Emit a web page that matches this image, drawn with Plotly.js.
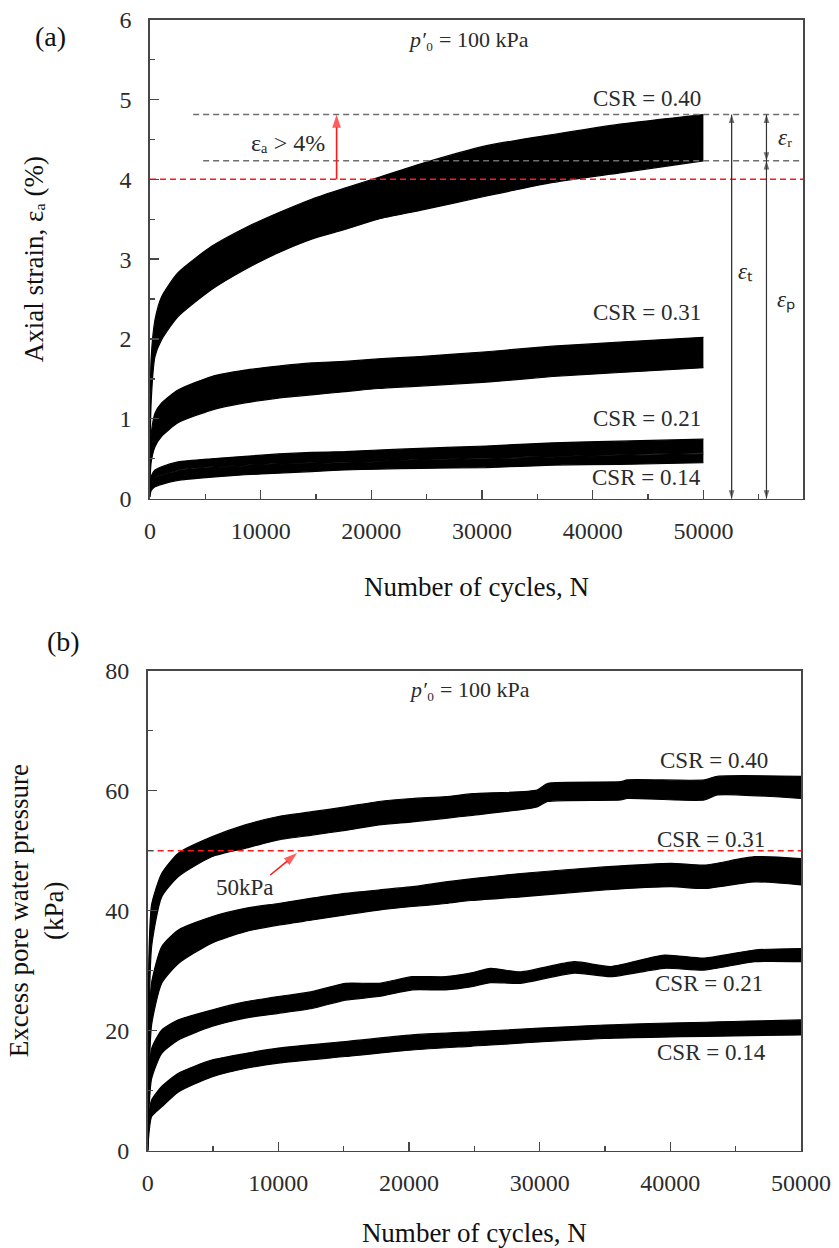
<!DOCTYPE html>
<html>
<head>
<meta charset="utf-8">
<script src="https://cdn.plot.ly/plotly-3.0.1.min.js"></script>
<style>html,body{margin:0;padding:0;background:#fff;}#chart{width:839px;height:1248px;}</style>
</head>
<body>
<div id="chart"></div>
<script>
// ---------- Panel (a): axial strain (%) vs number of cycles ----------
const strainN = [0, 100, 450, 1050, 2530, 5570, 8580, 11600, 14600, 17600, 20600, 24400, 30400, 36400, 42460, 50000];
const strainUp040 = [0.9, 1.75, 2.24, 2.53, 2.83, 3.16, 3.39, 3.58, 3.75, 3.89, 4.02, 4.19, 4.42, 4.56, 4.69, 4.81];
const strainLo040 = [0.4, 1.2, 1.78, 1.99, 2.28, 2.62, 2.87, 3.08, 3.25, 3.37, 3.50, 3.61, 3.79, 3.96, 4.08, 4.23];
const strainUp031 = [0.4, 0.8, 1.07, 1.20, 1.36, 1.53, 1.61, 1.66, 1.70, 1.72, 1.75, 1.78, 1.84, 1.91, 1.96, 2.02];
const strainLo031 = [0.2, 0.45, 0.65, 0.78, 0.95, 1.11, 1.20, 1.26, 1.30, 1.34, 1.38, 1.41, 1.46, 1.53, 1.58, 1.64];
const strainUp021 = [0.15, 0.28, 0.36, 0.40, 0.46, 0.50, 0.53, 0.56, 0.58, 0.59, 0.61, 0.63, 0.66, 0.70, 0.72, 0.745];
const strainLo021 = [0.08, 0.20, 0.27, 0.30, 0.36, 0.40, 0.42, 0.44, 0.45, 0.46, 0.47, 0.49, 0.51, 0.53, 0.55, 0.575];
const strainUp014 = [0.07, 0.19, 0.26, 0.29, 0.35, 0.39, 0.41, 0.43, 0.44, 0.45, 0.46, 0.48, 0.50, 0.52, 0.54, 0.56];
const strainLo014 = [0.02, 0.10, 0.15, 0.18, 0.23, 0.27, 0.30, 0.32, 0.34, 0.36, 0.37, 0.38, 0.39, 0.42, 0.43, 0.45];

// reference levels in panel (a)
const strainMaxFinal = 4.81;   // upper dashed line (max strain at end)
const strainMinFinal = 4.23;   // lower dashed line (permanent strain)
const strainLimit = 4.0;       // failure criterion 4 %
const refLineStartN = [3900, 4800];
const arrowTotalN = 52550;
const arrowPermN = 55700;
const redArrowN = 16860;

// ---------- Panel (b): excess pore water pressure (kPa) ----------
const pwpN040 = [0, 100, 300, 1070, 2350, 4900, 7460, 10000, 12580, 15130, 17680, 20250, 22800, 24850, 29800, 30600, 36200, 36700, 42600, 43600, 50000];
const pwpUp040 = [5, 33, 41, 46.2, 49.6, 52.3, 54.3, 55.7, 56.5, 57.3, 58.2, 58.7, 59.0, 59.5, 60.1, 61.2, 61.5, 61.8, 61.8, 62.4, 62.4];
const pwpLo040 = [0, 22, 34, 42.3, 45.7, 49.0, 50.4, 51.8, 52.6, 53.4, 54.3, 54.8, 55.4, 55.9, 57.3, 58.2, 58.45, 58.7, 58.45, 59.3, 58.7];

const pwpN031 = [0, 100, 300, 1070, 2350, 4900, 7460, 10000, 12580, 15130, 17680, 20250, 22800, 24700, 28550, 34940, 40050, 42600, 46440, 50000];
const pwpUp031 = [3, 20, 28, 34.0, 36.8, 39.0, 40.4, 41.2, 42.1, 42.9, 43.45, 44.0, 44.8, 45.3, 46.2, 47.3, 47.9, 47.6, 49.0, 48.7];
const pwpLo031 = [0, 12, 21, 27.9, 31.2, 34.6, 36.5, 37.6, 38.45, 39.3, 40.1, 40.7, 41.2, 41.7, 42.3, 43.45, 44.0, 43.7, 44.8, 44.3];

const pwpN021 = [0, 100, 300, 1070, 2350, 4900, 7460, 10000, 12580, 15130, 17680, 20250, 22800, 24700, 26250, 28550, 32640, 35450, 39540, 42600, 46440, 50000];
const pwpUp021 = [2, 12, 17, 20.1, 21.8, 23.45, 24.8, 25.7, 26.5, 27.9, 27.9, 29.0, 29.0, 29.6, 30.4, 29.8, 31.5, 30.7, 32.6, 32.1, 33.45, 33.7];
const pwpLo021 = [0, 7, 12, 16.2, 18.45, 20.7, 22.1, 22.9, 23.7, 25.1, 25.7, 26.8, 26.8, 27.3, 28.0, 27.9, 29.6, 29.0, 30.4, 30.1, 31.5, 31.5];

const pwpN014 = [0, 100, 300, 1070, 2350, 4900, 7460, 10000, 15130, 20250, 24700, 34940, 50000];
const pwpUp014 = [1, 6, 8.45, 10.7, 12.9, 15.1, 16.2, 17.1, 18.2, 19.3, 19.8, 20.95, 21.8];
const pwpLo014 = [0, 3, 5.7, 7.3, 9.8, 12.3, 13.7, 14.6, 15.7, 16.8, 17.4, 18.7, 19.3];

const pwpLimit = 50;
const pwpArrowN = [9380, 11430];
const pwpArrowY = [45.95, 49.6];

// tick labels
const xTicks = [0, 10000, 20000, 30000, 40000, 50000];
const strainTicks = [0, 1, 2, 3, 4, 5, 6];
const pwpTicks = [0, 20, 40, 60, 80];
const csrLabels = ['CSR = 0.40', 'CSR = 0.31', 'CSR = 0.21', 'CSR = 0.14'];

// ---------- drawing ----------
const FONT = 'Liberation Serif';
const TXT = '#2b2b2b';
const AX = '#474747';

function band(xs, lo, up, xa, ya) {
  return [
    {x: xs, y: lo, xaxis: xa, yaxis: ya, mode: 'lines', line: {color: '#000', width: 1.2, shape: 'spline', smoothing: 0.6}, hoverinfo: 'skip'},
    {x: xs, y: up, xaxis: xa, yaxis: ya, mode: 'lines', fill: 'tonexty', fillcolor: '#000', line: {color: '#000', width: 1.2, shape: 'spline', smoothing: 0.6}, hoverinfo: 'skip'}
  ];
}
function hline(x0, x1, y, xa, ya, color) {
  return {x: [x0, x1], y: [y, y], xaxis: xa, yaxis: ya, mode: 'lines', line: {color: color, width: 1.5, dash: '6px,4px'}, hoverinfo: 'skip'};
}
// arrow from (xs[0],ys[0]) to (xs[1],ys[1]); arrowhead marker (tip on the point) at the end only
function arrowLine(xs, ys, xa, ya, color, width, size) {
  return {x: xs, y: ys, xaxis: xa, yaxis: ya, mode: 'lines+markers', hoverinfo: 'skip',
    line: {color: color, width: width},
    marker: {symbol: 'arrow', size: [0, size], color: color, angleref: 'previous', line: {width: 0}}};
}
function doubleArrow(x, y0, y1, xa, ya, color, width, size) {
  return [arrowLine([x, x], [y0, y1], xa, ya, color, width, size),
          arrowLine([x, x], [y1, y0], xa, ya, color, width, size)];
}

const xMaxA = 59000;
const traces = [].concat(
  band(strainN, strainLo040, strainUp040, 'x', 'y'),
  band(strainN, strainLo031, strainUp031, 'x', 'y'),
  band(strainN, strainLo021, strainUp021, 'x', 'y'),
  band(strainN, strainLo014, strainUp014, 'x', 'y'),
  [hline(refLineStartN[0], xMaxA, strainMaxFinal, 'x', 'y', '#6e6e6e'),
   hline(refLineStartN[1], xMaxA, strainMinFinal, 'x', 'y', '#6e6e6e'),
   hline(0, xMaxA, strainLimit, 'x', 'y', '#ff1a1a'),
   arrowLine([redArrowN, redArrowN], [strainLimit, strainMaxFinal], 'x', 'y', '#ff1a1a', 1.6, 14)],
  doubleArrow(arrowTotalN, 0, strainMaxFinal, 'x', 'y', '#333', 1.1, 9),
  doubleArrow(arrowPermN, strainMinFinal, strainMaxFinal, 'x', 'y', '#333', 1.1, 9),
  doubleArrow(arrowPermN, 0, strainMinFinal, 'x', 'y', '#333', 1.1, 9),
  band(pwpN040, pwpLo040, pwpUp040, 'x2', 'y2'),
  band(pwpN031, pwpLo031, pwpUp031, 'x2', 'y2'),
  band(pwpN021, pwpLo021, pwpUp021, 'x2', 'y2'),
  band(pwpN014, pwpLo014, pwpUp014, 'x2', 'y2'),
  [hline(0, 50000, pwpLimit, 'x2', 'y2', '#ff1a1a'),
   arrowLine(pwpArrowN, pwpArrowY, 'x2', 'y2', '#ff1a1a', 1.6, 14)]
);

const tickFont = {family: FONT, size: 24, color: TXT};
const titleFont = {family: FONT, size: 27, color: '#111'};
function xAxis(domain, anchor, range) {
  return {
    domain: domain, anchor: anchor, range: range, tickmode: 'array', tickvals: xTicks,
    ticktext: xTicks.map(String), ticks: 'inside', ticklen: 9, tickwidth: 1.3, tickcolor: AX,
    minor: {dtick: 5000, tick0: 0, ticks: 'inside', ticklen: 5, tickwidth: 1.3, tickcolor: AX, showgrid: false},
    showline: true, mirror: true, linecolor: AX, linewidth: 1.6, showgrid: false, zeroline: false,
    tickfont: tickFont, ticklabelstandoff: 10,
    title: {text: 'Number of cycles, N', font: titleFont, standoff: 34}
  };
}
function yAxis(domain, anchor, range, vals, minorStep, title, standoff) {
  return {
    domain: domain, anchor: anchor, range: range, tickmode: 'array', tickvals: vals,
    ticks: 'inside', ticklen: 9, tickwidth: 1.3, tickcolor: AX,
    minor: {dtick: minorStep, tick0: 0, ticks: 'inside', ticklen: 5, tickwidth: 1.3, tickcolor: AX, showgrid: false},
    showline: true, mirror: true, linecolor: AX, linewidth: 1.6, showgrid: false, zeroline: false,
    tickfont: tickFont, ticklabelstandoff: 12,
    title: {text: title, font: titleFont, standoff: standoff}
  };
}

const W = 839, H = 1248;
const layout = {
  width: W, height: H, margin: {l: 0, r: 0, t: 0, b: 0}, showlegend: false,
  paper_bgcolor: '#fff', plot_bgcolor: '#fff',
  font: {family: FONT, color: TXT},
  xaxis: xAxis([150 / W, 803 / W], 'y', [0, xMaxA]),
  yaxis: yAxis([1 - 498.7 / H, 1 - 19.5 / H], 'x', [0, 6], strainTicks, 0.5, 'Axial strain, εₐ (%)', 68),
  xaxis2: xAxis([147.7 / W, 801 / W], 'y2', [0, 50000]),
  yaxis2: yAxis([1 - 1150.7 / H, 1 - 670.7 / H], 'x2', [0, 80], pwpTicks, 10, 'Excess pore water pressure<br>(kPa)', 34),
  annotations: []
};

const A = layout.annotations;
function txt(text, x, y, xref, yref, size, opts) {
  A.push(Object.assign({text: text, x: x, y: y, xref: xref, yref: yref, showarrow: false,
    xanchor: 'center', yanchor: 'middle',
    font: {family: FONT, size: size, color: TXT}}, opts || {}));
}

// panel labels
txt('(a)', 50 / W, 1 - 36 / H, 'paper', 'paper', 28, {font: {family: FONT, size: 28, color: '#111'}});
txt('(b)', 63 / W, 1 - 642 / H, 'paper', 'paper', 28, {font: {family: FONT, size: 28, color: '#111'}});

// panel (a) texts
txt('<i>p′</i>₀ = 100 kPa', 28800, 5.75, 'x', 'y', 22);
txt(csrLabels[0], 50000, 5.01, 'x', 'y', 23, {xanchor: 'right'});
txt(csrLabels[1], 50000, 2.33, 'x', 'y', 23, {xanchor: 'right'});
txt(csrLabels[2], 50000, 1.0, 'x', 'y', 23, {xanchor: 'right'});
txt(csrLabels[3], 50000, 0.26, 'x', 'y', 23, {xanchor: 'right'});
txt('εₐ > 4%', 12470, 4.45, 'x', 'y', 24);
txt('<i>ε</i>ᵣ', 57400, 4.52, 'x', 'y', 23);
txt('<i>ε</i>ₜ', 53800, 2.85, 'x', 'y', 23);
txt('<i>ε</i>ₚ', 57500, 2.49, 'x', 'y', 23);

// panel (b) texts
txt('<i>p′</i>₀ = 100 kPa', 24600, 76.8, 'x2', 'y2', 22);
txt(csrLabels[0], 43370, 65.1, 'x2', 'y2', 23);
txt(csrLabels[1], 43130, 51.8, 'x2', 'y2', 23);
txt(csrLabels[2], 42990, 27.9, 'x2', 'y2', 23);
txt(csrLabels[3], 43130, 16.3, 'x2', 'y2', 23);
txt('50kPa', 7460, 43.8, 'x2', 'y2', 23);

Plotly.newPlot('chart', traces, layout, {staticPlot: true, displayModeBar: false});
</script>
</body>
</html>
